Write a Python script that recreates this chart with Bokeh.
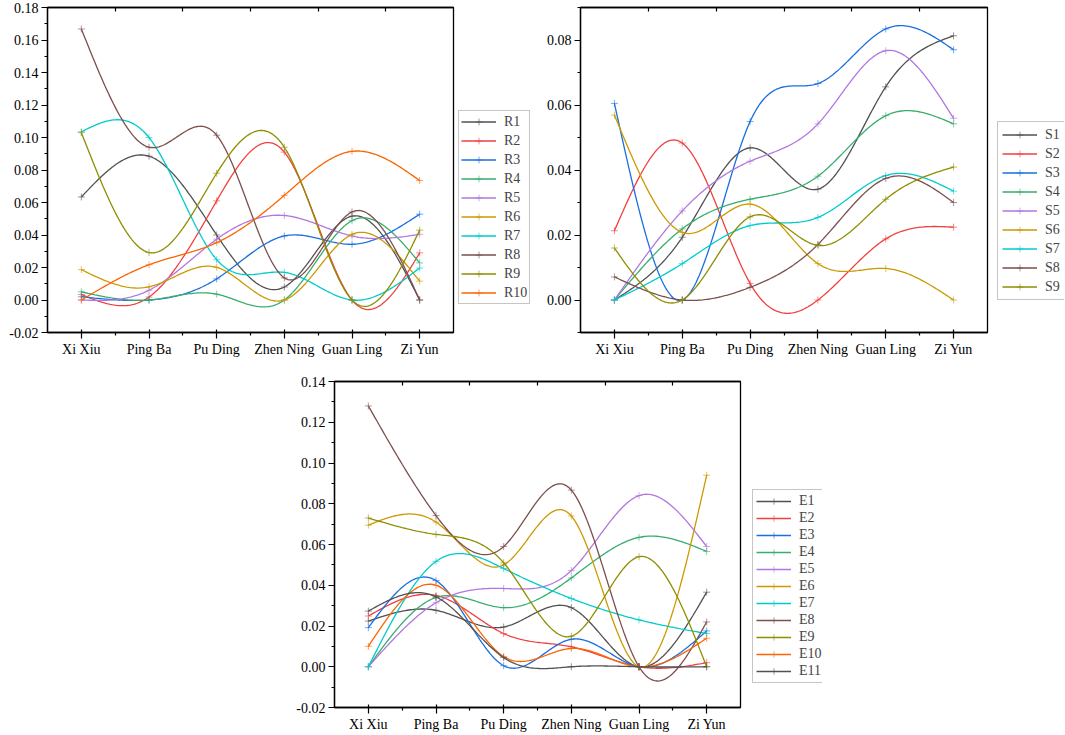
import numpy as np
from bokeh.plotting import figure
from bokeh.models import (Legend, LegendItem, LinearAxis, FixedTicker, SingleIntervalTicker,
                          NumeralTickFormatter, Range1d, Spacer)
from bokeh.layouts import column, row
from bokeh.embed import file_html
from bokeh.resources import INLINE

sites = ["Xi Xiu", "Ping Ba", "Pu Ding", "Zhen Ning", "Guan Ling", "Zi Yun"]

R1 = [0.0634, 0.0885, 0.040, 0.008, 0.0516, 0.0]
R2 = [0.0034, 0.0018, 0.061, 0.091, 0.0, 0.029]
R3 = [0.002, 0.0, 0.013, 0.0394, 0.0343, 0.0528]
R4 = [0.005, 0.0, 0.0036, 0.0, 0.0488, 0.0228]
R5 = [0.0, 0.006, 0.0374, 0.052, 0.0394, 0.0404]
R6 = [0.0187, 0.0081, 0.0201, 0.0, 0.0404, 0.0116]
R7 = [0.1035, 0.100, 0.0248, 0.017, 0.0, 0.0197]
R8 = [0.1668, 0.094, 0.1014, 0.0136, 0.0542, 0.0]
R9 = [0.103, 0.0292, 0.078, 0.094, 0.0, 0.043]
R10 = [0.0, 0.0217, 0.0353, 0.0644, 0.0915, 0.0735]

S1 = [0.0, 0.0193, 0.0468, 0.0341, 0.0656, 0.0813]
S2 = [0.0213, 0.0483, 0.0051, 0.0, 0.0188, 0.0224]
S3 = [0.0605, 0.0, 0.0549, 0.0666, 0.0834, 0.0770]
S4 = [0.0, 0.0219, 0.031, 0.0381, 0.0567, 0.0542]
S5 = [0.0, 0.0274, 0.0427, 0.0542, 0.0767, 0.0559]
S6 = [0.0569, 0.0208, 0.0295, 0.0112, 0.0097, 0.0]
S7 = [0.0, 0.0112, 0.0229, 0.0254, 0.0383, 0.0335]
S8 = [0.0071, 0.0, 0.0039, 0.0171, 0.0374, 0.030]
S9 = [0.016, 0.0, 0.0256, 0.0168, 0.031, 0.0409]

E1 = [0.0224, 0.0277, 0.0195, 0.029, 0.0, 0.0366]
E2 = [0.0249, 0.035, 0.0163, 0.0098, 0.0, 0.002]
E3 = [0.0192, 0.0423, 0.0005, 0.0135, 0.0, 0.0176]
E4 = [0.0, 0.034, 0.029, 0.0436, 0.0635, 0.0566]
E5 = [0.0, 0.0314, 0.0384, 0.0472, 0.084, 0.059]
E6 = [0.0695, 0.071, 0.050, 0.074, 0.0, 0.094]
E7 = [0.0, 0.0517, 0.0482, 0.0335, 0.023, 0.0163]
E8 = [0.128, 0.0742, 0.059, 0.0867, 0.0, 0.022]
E9 = [0.073, 0.065, 0.051, 0.015, 0.054, 0.0]
E10 = [0.010, 0.040, 0.005, 0.009, 0.0, 0.014]
E11 = [0.0273, 0.0343, 0.0045, 0.0, 0.0, 0.0]

r_names = ["R1", "R2", "R3", "R4", "R5", "R6", "R7", "R8", "R9", "R10"]
r_series = [R1, R2, R3, R4, R5, R6, R7, R8, R9, R10]
s_names = ["S1", "S2", "S3", "S4", "S5", "S6", "S7", "S8", "S9"]
s_series = [S1, S2, S3, S4, S5, S6, S7, S8, S9]
e_names = ["E1", "E2", "E3", "E4", "E5", "E6", "E7", "E8", "E9", "E10", "E11"]
e_series = [E1, E2, E3, E4, E5, E6, E7, E8, E9, E10, E11]

palette = ["#515151", "#F14040", "#1A6FDF", "#37AD6B", "#B177DE", "#CC9900",
           "#00CBCC", "#7D4E4E", "#8E8E00", "#FB6501", "#515151"]

FONT = "Liberation Serif"


def natural_spline(y, per=40):
    y = np.asarray(y, dtype=float)
    n = len(y)
    A = np.zeros((n, n))
    b = np.zeros(n)
    A[0, 0] = 1.0
    A[-1, -1] = 1.0
    for i in range(1, n - 1):
        A[i, i - 1] = 1.0
        A[i, i] = 4.0
        A[i, i + 1] = 1.0
        b[i] = 6.0 * (y[i + 1] - 2 * y[i] + y[i - 1])
    M = np.linalg.solve(A, b)
    xs, ys = [], []
    for i in range(n - 1):
        t = np.linspace(0, 1, per, endpoint=(i == n - 2))
        a = 1 - t
        v = (a * y[i] + t * y[i + 1]
             + ((a ** 3 - a) * M[i] + (t ** 3 - t) * M[i + 1]) / 6.0)
        xs.extend(list(i + t))
        ys.extend(list(v))
    return xs, ys


def make_panel(names, series, ylo, yhi, w, h, mbl, mbt, mbb):
    p = figure(width=w, height=h,
               x_range=Range1d(-0.5, 5.5), y_range=Range1d(ylo, yhi),
               output_backend="svg", toolbar_location=None,
               min_border_left=mbl, min_border_right=2,
               min_border_top=mbt, min_border_bottom=mbb,
               x_axis_type=None, y_axis_type=None)
    p.outline_line_color = "black"
    p.outline_line_width = 1.3
    p.background_fill_color = "white"

    xt = FixedTicker(ticks=[0, 1, 2, 3, 4, 5], minor_ticks=[0.5, 1.5, 2.5, 3.5, 4.5])
    xa = LinearAxis(ticker=xt)
    xa.major_label_overrides = {i: s for i, s in enumerate(sites)}
    xa.major_label_text_font = FONT
    xa.major_label_text_font_size = "14px"
    xa.major_label_text_color = "black"
    xa.major_label_standoff = 3
    xa.axis_line_width = 1.3
    xa.major_tick_in = 3
    xa.major_tick_out = 6
    xa.minor_tick_in = 0
    xa.minor_tick_out = 3
    xa.major_tick_line_width = 1.2
    xa.minor_tick_line_width = 1.2
    p.add_layout(xa, "below")

    ta = LinearAxis(ticker=FixedTicker(ticks=[], minor_ticks=[0.5, 1.5, 2.5, 3.5, 4.5]))
    ta.major_label_standoff = 0
    ta.major_tick_in = 0
    ta.major_tick_out = 0
    ta.minor_tick_in = 4
    ta.minor_tick_out = 0
    ta.axis_line_width = 1.3
    ta.minor_tick_line_width = 1.2
    p.add_layout(ta, "above")

    yt = SingleIntervalTicker(interval=0.02, num_minor_ticks=2)
    ya = LinearAxis(ticker=yt, formatter=NumeralTickFormatter(format="0.00"))
    ya.major_label_text_font = FONT
    ya.major_label_text_font_size = "14px"
    ya.major_label_text_color = "black"
    ya.major_label_standoff = 3
    ya.axis_line_width = 1.3
    ya.major_tick_in = 0
    ya.major_tick_out = 6
    ya.minor_tick_in = 0
    ya.minor_tick_out = 3
    ya.major_tick_line_width = 1.2
    ya.minor_tick_line_width = 1.2
    p.add_layout(ya, "left")

    p.xgrid.ticker = xt
    p.xgrid.grid_line_color = "#dedede"
    p.xgrid.grid_line_width = 1
    p.ygrid.ticker = yt
    p.ygrid.grid_line_color = "#b0b0b0"
    p.ygrid.grid_line_dash = "2 2"
    p.ygrid.grid_line_width = 1

    xs0 = list(range(len(sites)))
    for k, (nm, ys) in enumerate(zip(names, series)):
        c = palette[k]
        sx, sy = natural_spline(ys)
        p.line(sx, sy, line_color=c, line_width=1.3)
        p.scatter(xs0, ys, marker="cross", size=7, line_color=c, line_width=1, line_alpha=0.6)
    return p


def make_legend(names, w, h, lx, ly, leg_h, leg_sp, pad):
    q = figure(width=w, height=h, x_range=Range1d(0, 1), y_range=Range1d(0, 1),
               output_backend="svg", toolbar_location=None,
               min_border_left=0, min_border_right=0, min_border_top=0, min_border_bottom=0,
               x_axis_type=None, y_axis_type=None)
    q.outline_line_color = None
    q.background_fill_color = "white"
    items = []
    for k, nm in enumerate(names):
        c = palette[k]
        lr = q.line(x=[-10, -9], y=[-10, -9], line_color=c, line_width=1.3)
        sr = q.scatter(x=[-10], y=[-10], marker="cross", size=7, line_color=c,
                       line_width=1, line_alpha=0.6)
        items.append(LegendItem(label=nm, renderers=[lr, sr]))
    leg = Legend(items=items, location=(lx, ly), margin=0, padding=pad,
                 spacing=leg_sp, glyph_width=35, glyph_height=leg_h, label_height=leg_h,
                 label_standoff=8, label_text_font=FONT, label_text_font_size="14px",
                 border_line_color="#8c8c8c", border_line_width=1,
                 background_fill_color="white", background_fill_alpha=1.0)
    q.add_layout(leg, "center")
    return q


p1 = make_panel(r_names, r_series, -0.02, 0.18, 455, 362, 47, 7, 29)
l1 = make_legend(r_names, 85, 362, 3, 28, 17, 2, 2)
p2 = make_panel(s_names, s_series, -0.01, 0.09, 449, 362, 40, 5, 30)
l2 = make_legend(s_names, 75, 362, 8, 32, 17, 2, 4)
p3 = make_panel(e_names, e_series, -0.02, 0.14, 449, 372, 40, 19, 27)
l3 = make_legend(e_names, 80, 372, 10, 24, 16, 1, 3)

layout = column(row(p1, l1, p2, l2), row(Spacer(width=293, height=10), p3, l3))

with open("out.html", "w") as f:
    f.write(file_html(layout, INLINE))
